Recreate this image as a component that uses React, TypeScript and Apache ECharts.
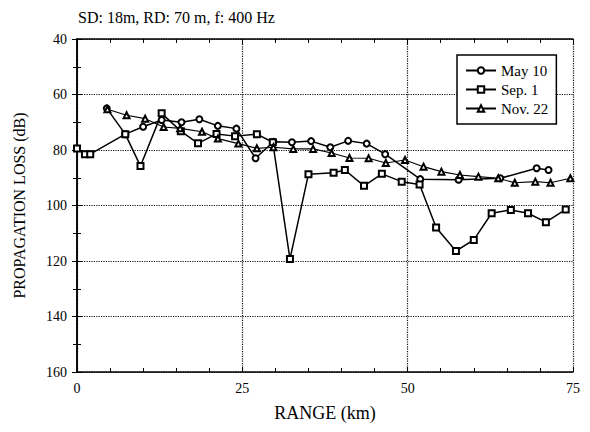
import React, { useEffect, useRef } from "react";
import * as echarts from "echarts";

const titleText = "SD: 18m, RD: 70 m, f: 400 Hz";
const xName = "RANGE (km)";
const yName = "PROPAGATION LOSS (dB)";
const seriesNames = ["May 10", "Sep. 1", "Nov. 22"];

const mayRange = [4.5, 7.3, 10.0, 12.8, 15.8, 18.5, 21.3, 24.1, 27.0, 29.7, 32.5, 35.4, 38.3, 41.0, 43.8, 46.6, 51.9, 57.7, 64.0, 69.5, 71.3];
const mayLoss = [65.0, 74.3, 71.6, 69.2, 70.0, 68.9, 71.3, 72.3, 83.0, 77.0, 77.2, 76.8, 79.0, 76.7, 77.7, 81.5, 90.5, 90.7, 90.2, 86.6, 87.2];

const sepRange = [0, 1.2, 2.0, 7.3, 9.6, 12.8, 15.7, 18.3, 21.1, 23.9, 27.2, 29.6, 32.2, 35.0, 38.8, 40.5, 43.4, 46.1, 49.1, 51.8, 54.3, 57.3, 60.0, 62.7, 65.6, 68.2, 70.9, 73.9];
const sepLoss = [79.5, 81.5, 81.5, 74.3, 85.8, 66.8, 73.2, 77.6, 74.2, 75.0, 74.3, 77.2, 119.3, 88.7, 88.2, 87.2, 92.9, 88.6, 91.4, 92.4, 107.9, 116.4, 112.4, 102.8, 101.6, 102.8, 106.0, 101.4];

const novRange = [4.6, 7.5, 10.3, 13.1, 15.6, 18.9, 21.3, 24.4, 27.2, 29.7, 32.7, 35.7, 38.5, 41.2, 44.1, 46.7, 49.6, 52.4, 55.1, 57.9, 60.7, 63.7, 66.2, 69.3, 71.6, 74.6];
const novLoss = [65.3, 67.5, 68.7, 71.7, 72.2, 73.4, 75.9, 77.7, 79.4, 79.0, 79.6, 79.6, 81.1, 82.9, 83.0, 84.7, 83.6, 86.0, 87.8, 89.0, 89.6, 90.2, 91.8, 91.4, 91.8, 90.2];

const zip = (xs: number[], ys: number[]) => xs.map((x, i) => [x, ys[i]]);

const FONT = "Liberation Serif";

export default function App() {
  const ref = useRef<HTMLDivElement>(null);
  useEffect(() => {
    if (!ref.current) return;
    const chart = echarts.init(ref.current, undefined, { renderer: "svg" });
    const axisLine = { show: true, lineStyle: { color: "#000", width: 1.5 } };
    const splitLine = { show: true, lineStyle: { color: "#111", width: 1.2, type: "dotted" } };
    const baseX = {
      type: "value" as const,
      min: 0,
      max: 75,
      interval: 25,
      axisLine,
      axisTick: { show: true, inside: true, length: 5, lineStyle: { color: "#000" } },
      minorTick: { show: true, splitNumber: 5, length: 4, lineStyle: { color: "#000" } },
    };
    const baseY = {
      type: "value" as const,
      min: 40,
      max: 160,
      interval: 20,
      inverse: true,
      axisLine,
      axisTick: { show: true, inside: true, length: 5, lineStyle: { color: "#000" } },
      minorTick: { show: true, splitNumber: 2, length: 4, lineStyle: { color: "#000" } },
    };
    const mk = (name: string, data: number[][], symbol: string, width: number) => ({
      name,
      type: "line",
      xAxisIndex: 0,
      yAxisIndex: 0,
      data,
      symbol,
      symbolSize: 6,
      lineStyle: { color: "#000", width },
      itemStyle: { color: "#000", borderWidth: 1.2 },
      z: 3,
    });
    chart.setOption({
      animation: false,
      backgroundColor: "#fff",
      title: {
        text: titleText,
        left: 73,
        top: 4,
        textStyle: { fontFamily: FONT, fontSize: 16, fontWeight: "normal", color: "#000" },
      },
      legend: {
        data: seriesNames,
        orient: "vertical",
        left: 457,
        top: 55,
        padding: [8, 8, 8, 8],
        itemGap: 4,
        itemWidth: 30,
        itemHeight: 8,
        borderColor: "#000",
        borderWidth: 1.5,
        backgroundColor: "#fff",
        textStyle: { fontFamily: FONT, fontSize: 15, color: "#000" },
      },
      grid: { left: 77, right: 17, top: 39, bottom: 60 },
      xAxis: [
        {
          ...baseX,
          position: "bottom",
          name: xName,
          nameLocation: "middle",
          nameGap: 32,
          nameTextStyle: { fontFamily: FONT, fontSize: 18, color: "#000" },
          axisLabel: { fontFamily: FONT, fontSize: 14, color: "#000", margin: 9 },
          splitLine,
        },
        {
          ...baseX,
          position: "top",
          axisLabel: { show: false },
          splitLine: { show: false },
        },
      ],
      yAxis: [
        {
          ...baseY,
          position: "left",
          name: yName,
          nameLocation: "middle",
          nameGap: 50,
          nameTextStyle: { fontFamily: FONT, fontSize: 16, color: "#000" },
          axisLabel: { fontFamily: FONT, fontSize: 14, color: "#000", margin: 10 },
          splitLine,
        },
        {
          ...baseY,
          position: "right",
          axisLabel: { show: false },
          splitLine: { show: false },
        },
      ],
      series: [
        mk(seriesNames[0], zip(mayRange, mayLoss), "emptyCircle", 1.5),
        mk(seriesNames[1], zip(sepRange, sepLoss), "emptyRect", 1.5),
        mk(seriesNames[2], zip(novRange, novLoss), "emptyTriangle", 1.1),
      ],
    });
    return () => chart.dispose();
  }, []);
  return (
    <div
      ref={ref}
      style={{ position: "fixed", left: 0, top: 0, width: 590, height: 432, background: "#fff" }}
    />
  );
}
